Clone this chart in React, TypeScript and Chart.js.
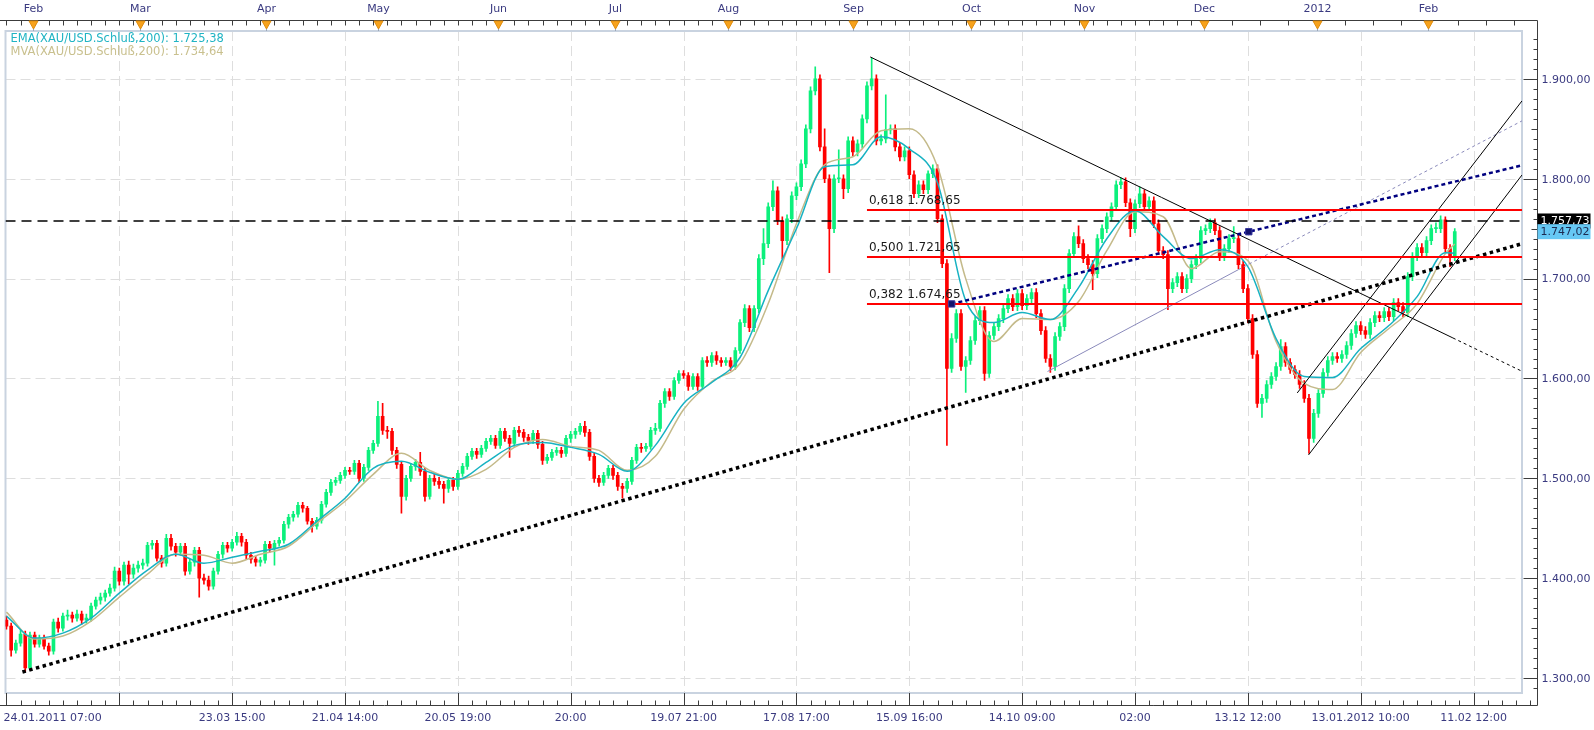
import React, { useEffect, useRef } from "react";
import { Chart, registerables } from "chart.js";
Chart.register(...registerables);

// ---------- candle data (index = candle number) ----------
const opens = [
  1358,1352,1328,1335,1344,1310,1343,1334,1340,1332,
  1327,1356,1350,1362,1363,1360,1364,1358,1360,1372,
  1378,1381,1385,1390,1407,1397,1413,1404,1410,1413,
  1415,1433,1435,1420,1415,1440,1432,1426,1432,1407,
  1416,1428,1400,1398,1392,1407,1424,1433,1430,1436,
  1442,1436,1423,1419,1416,1418,1434,1430,1435,1438,
  1454,1461,1464,1473,1470,1457,1452,1458,1474,1486,
  1496,1498,1503,1508,1507,1515,1500,1511,1528,1535,
  1562,1548,1547,1528,1514,1482,1500,1512,1516,1507,
  1482,1500,1497,1494,1490,1498,1492,1505,1512,1522,
  1527,1524,1530,1537,1540,1533,1547,1540,1535,1548,
  1546,1541,1538,1545,1534,1518,1521,1526,1528,1525,
  1540,1544,1547,1552,1546,1522,1500,1496,1503,1510,
  1503,1492,1490,1497,1518,1531,1530,1532,1548,1550,
  1575,1587,1582,1598,1605,1603,1592,1602,1592,1618,
  1616,1623,1618,1616,1618,1612,1628,1656,1670,1651,
  1670,1720,1735,1772,1788,1758,1738,1760,1783,1792,
  1815,1850,1888,1900,1832,1800,1750,1800,1800,1790,
  1838,1827,1835,1860,1893,1900,1838,1840,1849,1850,
  1832,1822,1828,1804,1785,1794,1789,1805,1810,1760,
  1715,1610,1640,1665,1612,1618,1638,1658,1668,1605,
  1643,1652,1660,1670,1680,1672,1685,1673,1680,1686,
  1665,1648,1620,1612,1642,1652,1690,1725,1742,1735,
  1720,1714,1705,1740,1750,1762,1772,1794,1797,1776,
  1750,1775,1785,1772,1778,1755,1728,1724,1690,1696,
  1702,1690,1700,1714,1720,1748,1750,1756,1748,1722,
  1730,1740,1740,1714,1690,1660,1624,1575,1580,1594,
  1602,1612,1632,1616,1609,1604,1594,1580,1540,1565,
  1585,1606,1618,1622,1620,1624,1633,1645,1653,1648,
  1644,1656,1663,1661,1667,1662,1676,1672,1666,1702,
  1722,1731,1726,1738,1750,1750,1759,1730,1722
];
const highs = [
  1362,1355,1338,1348,1347,1346,1346,1343,1343,1335,
  1359,1360,1365,1368,1366,1368,1367,1364,1375,1381,
  1385,1388,1394,1411,1410,1416,1417,1414,1417,1419,
  1436,1438,1438,1423,1444,1444,1435,1435,1435,1419,
  1431,1431,1404,1402,1410,1427,1436,1436,1439,1446,
  1445,1439,1426,1422,1421,1437,1437,1438,1441,1457,
  1464,1467,1476,1476,1472,1460,1461,1477,1489,1499,
  1501,1506,1511,1511,1518,1518,1514,1531,1538,1577,
  1575,1552,1550,1531,1517,1503,1515,1519,1526,1510,
  1503,1504,1501,1497,1501,1501,1508,1515,1525,1530,
  1530,1533,1540,1543,1543,1550,1550,1543,1551,1552,
  1549,1544,1548,1548,1537,1524,1529,1531,1531,1543,
  1547,1550,1555,1557,1549,1525,1503,1506,1513,1513,
  1506,1495,1500,1521,1534,1535,1535,1551,1555,1578,
  1590,1590,1601,1608,1608,1606,1605,1605,1621,1622,
  1626,1627,1621,1621,1621,1631,1659,1674,1673,1673,
  1724,1750,1776,1798,1792,1762,1764,1787,1796,1819,
  1854,1892,1912,1904,1850,1804,1804,1829,1804,1842,
  1842,1839,1864,1897,1921,1904,1844,1884,1854,1854,
  1836,1832,1832,1808,1798,1798,1808,1814,1814,1764,
  1719,1645,1669,1669,1622,1642,1662,1672,1672,1647,
  1656,1664,1674,1684,1684,1689,1689,1684,1690,1690,
  1669,1652,1624,1646,1656,1694,1729,1746,1753,1739,
  1724,1718,1744,1754,1766,1776,1798,1801,1801,1780,
  1779,1792,1789,1782,1782,1759,1732,1728,1700,1706,
  1706,1704,1718,1724,1752,1754,1760,1760,1752,1734,
  1744,1752,1744,1718,1694,1664,1628,1584,1598,1606,
  1616,1639,1636,1620,1613,1608,1598,1584,1569,1589,
  1610,1622,1626,1626,1628,1637,1649,1657,1657,1652,
  1660,1667,1667,1671,1671,1680,1680,1676,1706,1726,
  1735,1735,1742,1754,1756,1763,1762,1734,1750
];
const lows = [
  1349,1322,1325,1332,1306,1308,1331,1331,1329,1323,
  1324,1346,1347,1358,1356,1357,1354,1355,1357,1369,
  1374,1377,1382,1387,1393,1393,1394,1400,1406,1409,
  1412,1429,1417,1411,1412,1428,1422,1423,1403,1404,
  1412,1381,1394,1388,1389,1404,1420,1426,1427,1433,
  1432,1419,1415,1412,1412,1415,1426,1413,1432,1435,
  1450,1457,1461,1466,1454,1446,1449,1455,1471,1483,
  1493,1495,1500,1504,1504,1496,1497,1508,1525,1532,
  1544,1540,1524,1510,1465,1478,1497,1508,1503,1477,
  1479,1493,1490,1475,1486,1488,1489,1502,1509,1519,
  1520,1521,1527,1534,1530,1530,1537,1521,1532,1542,
  1537,1534,1535,1530,1514,1515,1518,1523,1521,1522,
  1536,1540,1544,1542,1518,1496,1492,1493,1500,1499,
  1488,1480,1486,1494,1515,1526,1527,1529,1544,1547,
  1571,1578,1579,1595,1600,1588,1589,1588,1589,1612,
  1612,1614,1612,1613,1608,1609,1625,1652,1647,1647,
  1666,1714,1731,1768,1754,1720,1734,1756,1779,1788,
  1811,1846,1884,1828,1796,1706,1746,1796,1780,1786,
  1823,1823,1831,1856,1889,1834,1834,1836,1845,1828,
  1818,1818,1800,1781,1781,1785,1785,1801,1756,1711,
  1533,1606,1636,1608,1586,1614,1634,1654,1598,1601,
  1639,1648,1656,1666,1668,1668,1669,1669,1676,1661,
  1644,1616,1606,1608,1638,1648,1686,1721,1731,1716,
  1710,1689,1701,1736,1746,1758,1768,1790,1772,1742,
  1746,1771,1768,1768,1751,1724,1720,1669,1686,1692,
  1686,1686,1696,1710,1716,1744,1746,1744,1718,1718,
  1726,1736,1710,1686,1656,1620,1571,1561,1576,1590,
  1598,1608,1612,1605,1600,1590,1576,1525,1536,1561,
  1581,1602,1614,1616,1616,1620,1629,1641,1644,1640,
  1640,1652,1657,1657,1658,1658,1668,1662,1662,1698,
  1718,1722,1722,1734,1746,1746,1726,1712,1718
];
const closes = [
  1352,1328,1335,1344,1310,1343,1334,1340,1332,1327,
  1356,1350,1362,1363,1360,1364,1358,1360,1372,1378,
  1381,1385,1390,1407,1397,1413,1404,1410,1413,1415,
  1433,1435,1420,1415,1440,1432,1426,1432,1407,1416,
  1428,1400,1398,1392,1407,1424,1433,1430,1436,1442,
  1436,1423,1419,1416,1418,1434,1430,1435,1438,1454,
  1461,1464,1473,1470,1457,1452,1458,1474,1486,1496,
  1498,1503,1508,1507,1515,1500,1511,1528,1535,1562,
  1548,1547,1528,1514,1482,1500,1512,1516,1507,1482,
  1500,1497,1494,1490,1498,1492,1505,1512,1522,1527,
  1524,1530,1537,1540,1533,1547,1540,1535,1548,1546,
  1541,1538,1545,1534,1518,1521,1526,1528,1525,1540,
  1544,1547,1552,1546,1522,1500,1496,1503,1510,1503,
  1492,1490,1497,1518,1531,1530,1532,1548,1550,1575,
  1587,1582,1598,1605,1603,1592,1602,1592,1618,1616,
  1623,1618,1616,1618,1612,1628,1656,1670,1651,1670,
  1720,1735,1772,1788,1758,1738,1760,1783,1792,1815,
  1850,1888,1900,1832,1800,1750,1800,1800,1790,1838,
  1827,1835,1860,1893,1900,1838,1840,1849,1850,1832,
  1822,1828,1804,1785,1794,1789,1805,1810,1760,1715,
  1610,1640,1665,1612,1618,1638,1658,1668,1605,1643,
  1652,1660,1670,1680,1672,1685,1673,1680,1686,1665,
  1648,1620,1612,1642,1652,1690,1725,1742,1735,1720,
  1714,1705,1740,1750,1762,1772,1794,1797,1776,1750,
  1775,1785,1772,1778,1755,1728,1724,1690,1696,1702,
  1690,1700,1714,1720,1748,1750,1756,1748,1722,1730,
  1740,1740,1714,1690,1660,1624,1575,1580,1594,1602,
  1612,1632,1616,1609,1604,1594,1580,1540,1565,1585,
  1606,1618,1622,1620,1624,1633,1645,1653,1648,1644,
  1656,1663,1661,1667,1662,1676,1672,1666,1702,1722,
  1731,1726,1738,1750,1750,1759,1730,1722,1747
];

// ---------- moving averages (read at sampled candles) ----------
const maIndex = [
  0,6,12,18,24,30,36,42,48,54,60,66,72,78,84,90,96,102,108,114,120,126,
  132,138,144,150,156,162,168,174,180,186,192,198,204,210,216,222,228,234,
  240,246,252,258,264,270,276,282,288,294,300,306,308
];
const emaValues = [
  1362,1340,1345,1360,1385,1408,1424,1415,1421,1427,1434,1457,1480,1510,1517,1506,
  1499,1516,1533,1536,1531,1524,1507,1533,1575,1596,1621,1688,1750,1812,1814,1842,
  1830,1796,1678,1656,1666,1659,1691,1740,1768,1742,1720,1729,1712,1640,1602,1601,
  1630,1653,1682,1726,1725.38
];
const mvaValues = [
  1366,1339,1342,1357,1381,1404,1424,1423,1415,1424,1432,1455,1477,1504,1525,1508,
  1499,1509,1531,1539,1532,1528,1508,1522,1569,1597,1615,1675,1755,1814,1822,1848,
  1850,1812,1700,1637,1660,1659,1677,1728,1767,1762,1710,1727,1718,1637,1595,1589,
  1626,1650,1675,1725,1734.64
];

// ---------- drawn objects (candle index, price) ----------
const supportX = [3.4, 322.3];
const supportY = [1306, 1735];
const resistX = [183.7, 307.6];
const resistY = [1922, 1640.6];
const resistExtX = [307.6, 322.3];
const resistExtY = [1640.6, 1607.2];
const navyX = [201.0, 322.3];
const navyY = [1674.65, 1813.5];
const markX = [201.0, 264.2];
const markY = [1674.65, 1747.0];
const grayX = [221.4, 262];
const grayY = [1607, 1709];
const grayExtX = [262, 322.3];
const grayExtY = [1709, 1858];
const chanUpX = [274.5, 322.3];
const chanUpY = [1585.5, 1878];
const chanLoX = [276.9, 322.3];
const chanLoY = [1523.4, 1803.8];
const fibLevels = [1768.65, 1721.65, 1674.65];
const fibLabels = ["0,618 1.768,65", "0,500 1.721,65", "0,382 1.674,65"];
const fibStart = 183.0;
const xEnd = 322.3;
const xStart = -0.2;
const refLevel = 1757.73;
const refLabel = "1.757,73";
const lastPrice = 1747.02;
const lastLabel = "1.747,02";
const emaLegend = "EMA(XAU/USD.Schluß,200): 1.725,38";
const mvaLegend = "MVA(XAU/USD.Schluß,200): 1.734,64";

// ---------- axes ----------
const yTickValues = [1300, 1400, 1500, 1600, 1700, 1800, 1900];
const yTickLabels = ["1.300,00", "1.400,00", "1.500,00", "1.600,00", "1.700,00", "1.800,00", "1.900,00"];
const xGridIndex = [24, 48, 72, 96, 120, 144, 168, 192, 216, 240, 264, 288, 312];
const xLabelIndex = [-0.2, 48, 72, 96, 120, 144, 168, 192, 216, 240, 264, 288, 312];
const xLabels = [
  "24.01.2011 07:00", "23.03 15:00", "21.04 14:00", "20.05 19:00", "20:00", "19.07 21:00",
  "17.08 17:00", "15.09 16:00", "14.10 09:00", "02:00", "13.12 12:00", "13.01.2012 10:00", "11.02 12:00"
];
const monthIndex = [5.7, 28.5, 55.2, 79.0, 104.5, 129.5, 153.5, 180.0, 205.1, 229.1, 254.6, 278.6, 302.3];
const monthLabels = ["Feb", "Mar", "Apr", "May", "Jun", "Jul", "Aug", "Sep", "Oct", "Nov", "Dec", "2012", "Feb"];

const GREEN = "#0cf07c";
const RED = "#ff0000";
const EMA_COLOR = "#17b2c2";
const MVA_COLOR = "#c4ba8a";
const AXIS_TEXT = "#3a3a80";
const FONT = '"DejaVu Sans", Verdana, sans-serif';

function pts(xs: number[], ys: number[]) {
  return xs.map((x, i) => ({ x, y: ys[i] }));
}

function seg(label: string, xs: number[], ys: number[], color: string, width: number, dash: number[], order: number) {
  return {
    type: "line" as const,
    label,
    data: pts(xs, ys),
    borderColor: color,
    borderWidth: width,
    borderDash: dash,
    borderCapStyle: "butt" as const,
    pointRadius: 0,
    tension: 0,
    order,
  };
}

const decor = {
  id: "decor",
  beforeDatasetsDraw(chart: any) {
    const { ctx, chartArea: a, scales } = chart;
    const xs = scales.x, ys = scales.y;
    ctx.save();
    ctx.strokeStyle = "#dedede";
    ctx.lineWidth = 1;
    ctx.setLineDash([10, 5]);
    for (const v of yTickValues) {
      const py = Math.round(ys.getPixelForValue(v)) + 0.5;
      ctx.beginPath(); ctx.moveTo(a.left, py); ctx.lineTo(a.right, py); ctx.stroke();
    }
    for (const i of xGridIndex) {
      const px = Math.round(xs.getPixelForValue(i)) + 0.5;
      ctx.beginPath(); ctx.moveTo(px, a.top); ctx.lineTo(px, a.bottom); ctx.stroke();
    }
    ctx.setLineDash([]);
    ctx.strokeStyle = "#c9d3e0";
    ctx.lineWidth = 2;
    ctx.strokeRect(a.left, a.top, a.right - a.left, a.bottom - a.top);
    ctx.restore();
  },
  afterDatasetsDraw(chart: any) {
    const { ctx, scales } = chart;
    const xs = scales.x, ys = scales.y;
    ctx.save();
    ctx.font = "12px " + FONT;
    ctx.fillStyle = "#1a1a1a";
    ctx.textBaseline = "middle";
    ctx.textAlign = "left";
    fibLevels.forEach((lv, k) => {
      ctx.fillText(fibLabels[k], xs.getPixelForValue(fibStart) + 2, ys.getPixelForValue(lv) - 9);
    });
    ctx.restore();
  },
  afterDraw(chart: any) {
    const { ctx, chartArea: a, scales } = chart;
    const xs = scales.x, ys = scales.y;
    const topY = a.top - 11 + 0.5;
    const botY = a.bottom + 12 + 0.5;
    const rightX = a.right + 15 + 0.5;
    ctx.save();
    // frame lines
    ctx.strokeStyle = "#3c3c3c";
    ctx.lineWidth = 1;
    ctx.beginPath();
    ctx.moveTo(0, topY); ctx.lineTo(rightX, topY);
    ctx.moveTo(rightX, topY); ctx.lineTo(rightX, botY);
    ctx.moveTo(0, botY); ctx.lineTo(rightX, botY);
    ctx.stroke();
    // top ticks
    ctx.beginPath();
    for (let i = 0; i < 254; i += 3) {
      const px = Math.round(xs.getPixelForValue(i)) + 0.5;
      ctx.moveTo(px, topY); ctx.lineTo(px, topY + 5);
    }
    for (let i = 254.6; i < 325; i += 6) {
      const px = Math.round(xs.getPixelForValue(i)) + 0.5;
      if (px < rightX) { ctx.moveTo(px, topY); ctx.lineTo(px, topY + 5); }
    }
    // bottom ticks
    for (let i = 0; i <= 324; i += 3) {
      const px = Math.round(xs.getPixelForValue(i)) + 0.5;
      if (px < rightX) { ctx.moveTo(px, botY); ctx.lineTo(px, botY - 5); }
    }
    for (const i of [xStart, ...xGridIndex]) {
      const px = Math.round(xs.getPixelForValue(i)) + 0.5;
      ctx.moveTo(px, botY); ctx.lineTo(px, a.bottom);
    }
    // right ticks
    for (let v = 1290; v <= 1945; v += 10) {
      const py = Math.round(ys.getPixelForValue(v)) + 0.5;
      const len = v % 100 === 0 ? 14 : v % 50 === 0 ? 6 : 4;
      ctx.moveTo(rightX, py); ctx.lineTo(rightX - len, py);
    }
    ctx.stroke();
    // month markers
    ctx.font = "11px " + FONT;
    ctx.textAlign = "center";
    ctx.textBaseline = "middle";
    monthIndex.forEach((mi, k) => {
      const px = Math.round(xs.getPixelForValue(mi)) + 0.5;
      ctx.fillStyle = AXIS_TEXT;
      ctx.fillText(monthLabels[k], px, topY - 11);
      ctx.strokeStyle = "#9aa6b8";
      ctx.beginPath(); ctx.moveTo(px, topY + 7); ctx.lineTo(px, a.top); ctx.stroke();
      ctx.fillStyle = "#f7a21c";
      ctx.strokeStyle = "#e08c0c";
      ctx.beginPath();
      ctx.moveTo(px - 4.5, topY + 0.5);
      ctx.lineTo(px + 4.5, topY + 0.5);
      ctx.lineTo(px, topY + 8.5);
      ctx.closePath();
      ctx.fill();
      ctx.stroke();
    });
    // bottom labels
    ctx.fillStyle = AXIS_TEXT;
    xLabelIndex.forEach((li, k) => {
      const px = xs.getPixelForValue(li);
      if (k === 0) { ctx.textAlign = "left"; ctx.fillText(xLabels[k], px - 2, botY + 13); }
      else { ctx.textAlign = "center"; ctx.fillText(xLabels[k], px, botY + 13); }
    });
    // right labels
    ctx.textAlign = "left";
    yTickValues.forEach((v, k) => {
      ctx.fillText(yTickLabels[k], rightX + 4, ys.getPixelForValue(v) + 1);
    });
    // price boxes
    const ry = ys.getPixelForValue(refLevel);
    ctx.fillStyle = "#000000";
    ctx.fillRect(rightX, ry - 7.5, 53, 15);
    ctx.fillStyle = "#ffffff";
    ctx.fillText(refLabel, rightX + 3, ry);
    const ly = ys.getPixelForValue(lastPrice);
    ctx.fillStyle = "#66c8f4";
    ctx.fillRect(rightX, ly - 7.5, 53, 15);
    ctx.fillStyle = "#1c2a50";
    ctx.fillText(lastLabel, rightX + 3, ly);
    // legend
    ctx.font = "11.5px " + FONT;
    ctx.fillStyle = "#20b4c4";
    ctx.fillText(emaLegend, a.left + 5, a.top + 8);
    ctx.fillStyle = "#c9c08e";
    ctx.fillText(mvaLegend, a.left + 5, a.top + 21);
    ctx.restore();
  },
};

export default function App() {
  const ref = useRef<HTMLCanvasElement | null>(null);
  useEffect(() => {
    document.body.style.margin = "0";
    const canvas = ref.current;
    if (!canvas) return;
    const colors = closes.map((c, i) => (c >= opens[i] ? GREEN : RED));
    const chart = new Chart(canvas, {
      type: "bar",
      data: {
        datasets: [
          {
            type: "bar",
            label: "wick",
            data: highs.map((h, i) => ({ x: i, y: [lows[i], h] })) as any,
            backgroundColor: colors,
            barThickness: 1,
            grouped: false,
            borderWidth: 0,
            order: 30,
          } as any,
          {
            type: "bar",
            label: "body",
            data: opens.map((o, i) => ({ x: i, y: [o, closes[i]] })) as any,
            backgroundColor: colors,
            barThickness: 3,
            minBarLength: 1,
            grouped: false,
            borderWidth: 0,
            order: 29,
          } as any,
          {
            type: "line",
            label: "MVA",
            data: pts(maIndex, mvaValues),
            borderColor: MVA_COLOR,
            borderWidth: 1.5,
            pointRadius: 0,
            cubicInterpolationMode: "monotone",
            order: 28,
          } as any,
          {
            type: "line",
            label: "EMA",
            data: pts(maIndex, emaValues),
            borderColor: EMA_COLOR,
            borderWidth: 1.5,
            pointRadius: 0,
            cubicInterpolationMode: "monotone",
            order: 27,
          } as any,
          seg("gray", grayX, grayY, "#8a8abb", 1, [], 12),
          seg("grayExt", grayExtX, grayExtY, "#8a8abb", 1, [3, 3], 12),
          seg("resist", resistX, resistY, "#000000", 1, [], 11),
          seg("resistExt", resistExtX, resistExtY, "#000000", 1, [3, 3], 11),
          seg("chanUp", chanUpX, chanUpY, "#000000", 1, [], 10),
          seg("chanLo", chanLoX, chanLoY, "#000000", 1, [], 10),
          seg("support", supportX, supportY, "#000000", 3.5, [3.5, 3.5], 9),
          seg("navy", navyX, navyY, "#000080", 2.5, [4, 3], 8),
          ...fibLevels.map((lv) => seg("fib", [fibStart, xEnd], [lv, lv], "#ff0000", 2, [], 6)),
          seg("ref", [xStart, xEnd], [refLevel, refLevel], "#000000", 1.6, [10, 6], 5),
          {
            type: "line",
            label: "marks",
            data: pts(markX, markY),
            showLine: false,
            pointStyle: "rect",
            pointRadius: 4.5,
            backgroundColor: "#13136e",
            borderColor: "#3a3aa0",
            borderWidth: 1,
            order: 1,
          } as any,
        ],
      },
      options: {
        responsive: false,
        animation: false,
        devicePixelRatio: 1,
        layout: { padding: { left: 3, top: 31, right: 72, bottom: 37 } },
        plugins: { legend: { display: false }, tooltip: { enabled: false } },
        scales: {
          x: { type: "linear", min: xStart, max: xEnd, offset: false, display: false },
          y: { type: "linear", min: 1285, max: 1948, display: false },
        },
      } as any,
      plugins: [decor],
    });
    return () => chart.destroy();
  }, []);
  return (
    <div style={{ width: 1594, height: 730, background: "#ffffff" }}>
      <canvas ref={ref} width={1594} height={730} style={{ display: "block" }} />
    </div>
  );
}
